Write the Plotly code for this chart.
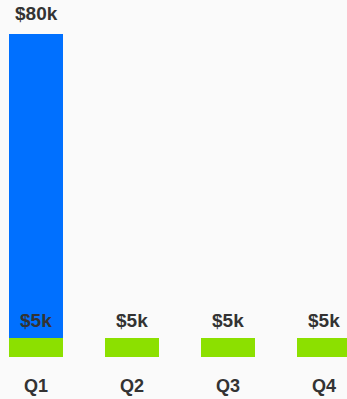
import plotly.graph_objects as go

quarters = ["Q1", "Q2", "Q3", "Q4"]
base_values = [5000, 5000, 5000, 5000]
extra_values = [80000, 0, 0, 0]
base_labels = ["$5k", "$5k", "$5k", "$5k"]
extra_labels = ["$80k", "", "", ""]

GREEN = "#8CE000"
BLUE = "#0070FF"
TEXT = "#333333"
FONT = "Liberation Sans"

fig = go.Figure()
fig.add_trace(go.Bar(x=quarters, y=base_values, marker=dict(color=GREEN, line=dict(width=0)),
                     width=0.5625, hoverinfo="skip"))
fig.add_trace(go.Bar(x=quarters, y=extra_values, marker=dict(color=BLUE, line=dict(width=0)),
                     width=0.5625, hoverinfo="skip"))

annotations = []
for q, b, e, bl, el in zip(quarters, base_values, extra_values, base_labels, extra_labels):
    annotations.append(dict(x=q, y=b, xref="x", yref="y", text=bl, showarrow=False,
                            yanchor="middle", yshift=17,
                            font=dict(family=FONT, size=19, color=TEXT, weight="bold")))
    if el:
        annotations.append(dict(x=q, y=b + e, xref="x", yref="y", text=el, showarrow=False,
                                yanchor="middle", yshift=20,
                                font=dict(family=FONT, size=19, color=TEXT, weight="bold")))

fig.update_layout(
    width=347, height=399,
    margin=dict(l=0, r=0, t=0, b=42),
    barmode="stack",
    showlegend=False,
    paper_bgcolor="#FAFAFA",
    plot_bgcolor="#FAFAFA",
    annotations=annotations,
    xaxis=dict(range=[-0.375, 3.2396], showgrid=False, zeroline=False, showline=False,
               ticks="outside", ticklen=12, tickcolor="rgba(0,0,0,0)",
               tickfont=dict(family=FONT, size=18, color=TEXT, weight="bold")),
    yaxis=dict(range=[0, 93900], visible=False, showgrid=False, zeroline=False),
)

fig.write_html("out.html", config={"displayModeBar": False},
               post_script="document.body.style.margin='0';")
